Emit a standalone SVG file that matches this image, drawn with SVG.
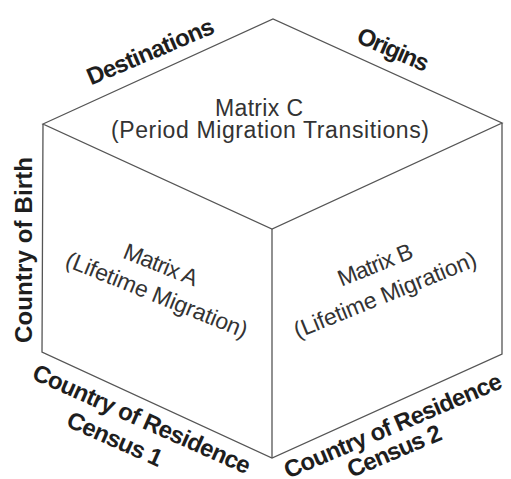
<svg xmlns="http://www.w3.org/2000/svg" width="511" height="479" viewBox="0 0 511 479">
<style>
.edge{fill:none;stroke:#555;stroke-width:1.3;stroke-linejoin:miter}
.lbl{font-family:"Liberation Sans",Arial,sans-serif;font-size:24px;font-weight:bold;fill:#1e1e1e;text-anchor:middle}
.mtx{font-family:"Liberation Sans",Arial,sans-serif;font-size:23px;fill:#333;text-anchor:middle}
</style>
<rect width="511" height="479" fill="#fff"/>
<g id="connectors">
<polygon class="edge" points="43,124 273,19 502,123 272,229"/>
<polyline class="edge" points="43,124 42,352 272,458 502,354 502,123"/>
<line class="edge" x1="272" y1="229" x2="272" y2="458"/>
</g>
<g id="matrixC">
<text class="mtx" x="259" y="115.5" textLength="88">Matrix C</text>
<text class="mtx" x="270" y="137.5" textLength="318">(Period Migration Transitions)</text>
</g>
<g id="matrixA">
<text class="mtx" transform="translate(158,272) rotate(22)" textLength="78">Matrix A</text>
<text class="mtx" transform="translate(154,302) rotate(22)" textLength="194">(Lifetime Migration)</text>
</g>
<g id="matrixB">
<text class="mtx" transform="translate(378,272) rotate(-22)" textLength="79">Matrix B</text>
<text class="mtx" transform="translate(388,302) rotate(-22)" textLength="195">(Lifetime Migration)</text>
</g>
<g id="destinations">
<text class="lbl" transform="translate(153.5,59) rotate(-23)" textLength="136">Destinations</text>
</g>
<g id="origins">
<text class="lbl" transform="translate(390,57) rotate(23.5)" textLength="76">Origins</text>
</g>
<g id="birth">
<text class="lbl" transform="translate(31.5,250) rotate(-90)" textLength="186">Country of Birth</text>
</g>
<g id="census1">
<text class="lbl" transform="translate(138.5,426.5) rotate(24)" textLength="236">Country of Residence</text>
<text class="lbl" transform="translate(111.7,446.5) rotate(24)" textLength="102">Census 1</text>
</g>
<g id="census2">
<text class="lbl" transform="translate(396,433) rotate(-23)" textLength="234">Country of Residence</text>
<text class="lbl" transform="translate(397.5,458.5) rotate(-23)" textLength="100">Census 2</text>
</g>
</svg>
